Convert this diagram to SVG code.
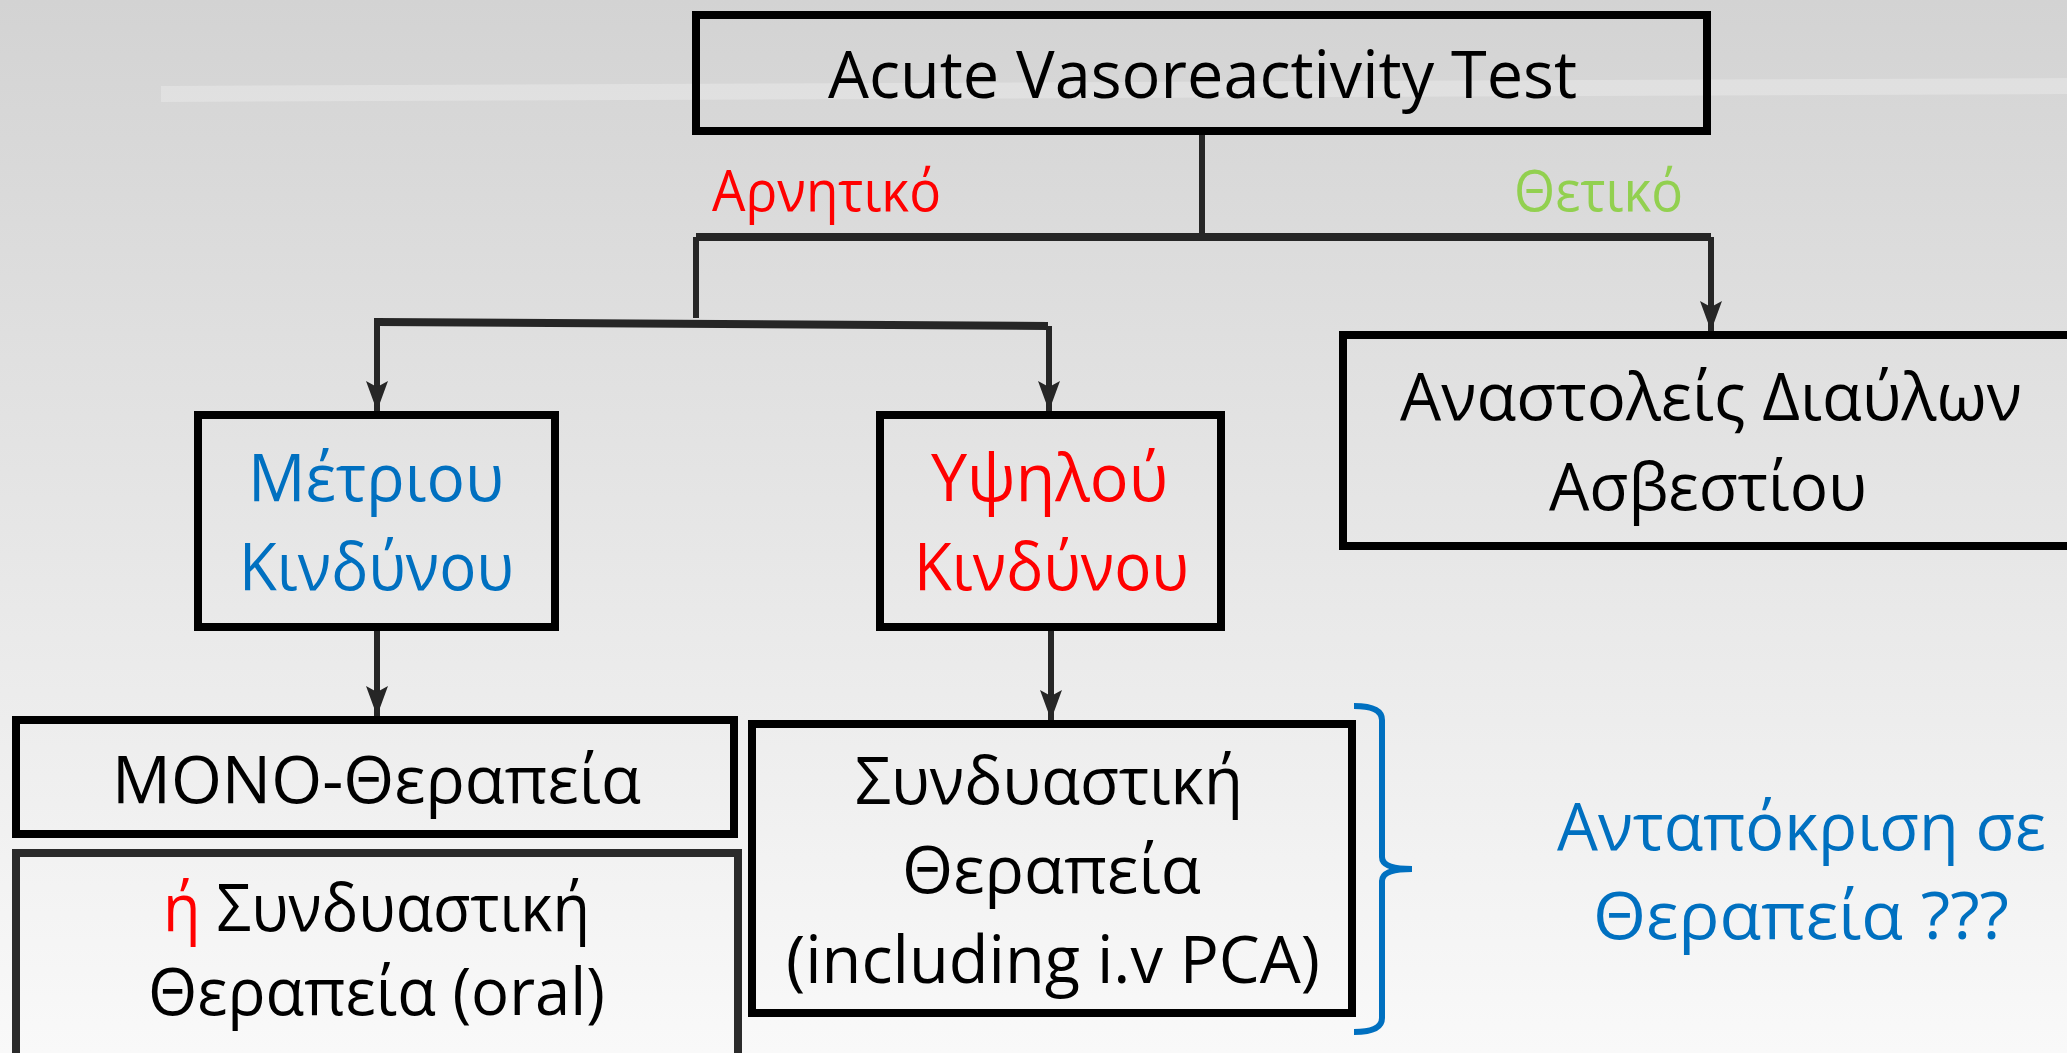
<svg xmlns="http://www.w3.org/2000/svg" width="2067" height="1053" viewBox="0 0 2067 1053">
<defs>
<linearGradient id="bg" x1="0" y1="0" x2="0" y2="1">
<stop offset="0" stop-color="#d3d3d3"/>
<stop offset="1" stop-color="#f9f9f9"/>
</linearGradient>
<marker id="arr" viewBox="0 0 30 22" markerWidth="30" markerHeight="22" refX="30" refY="11" orient="auto" markerUnits="userSpaceOnUse">
<path d="M0,0 L30,11 L0,22 L6,11 z" fill="#262626"/>
</marker>
</defs>
<style>
.box{fill:none;stroke:#000;stroke-width:8}
.t{font-family:"Open Sans","Noto Sans","DejaVu Sans",sans-serif;font-size:66px;fill:#000}
.lbl{font-size:56px}
.blue{fill:#0070C0}
.red{fill:#FF0000}
.green{fill:#92D050}
.c{fill:none;stroke:#262626;stroke-width:6}
.hb{stroke-width:8}
</style>
<rect width="2067" height="1053" fill="url(#bg)"/>
<polygon points="161,86 2067,78 2067,94 161,102" fill="#ffffff" opacity="0.25"/>

<g id="connectors">
<path class="c" d="M1202,135 L1202,237"/>
<path class="c hb" d="M696,237 L1711,237"/>
<path class="c" d="M696,237 L696,318"/>
<path class="c" d="M1711,237 L1711,331" marker-end="url(#arr)"/>
<path class="c hb" d="M377,322 L1048,326"/>
<path class="c" d="M377,318 L377,411" marker-end="url(#arr)"/>
<path class="c" d="M1049,326 L1049,411" marker-end="url(#arr)"/>
<path class="c" d="M377,631 L377,716" marker-end="url(#arr)"/>
<path class="c" d="M1051,631 L1051,720" marker-end="url(#arr)"/>
<path d="M1354,706 Q1382,706 1382,720 L1382,857 Q1382,869 1412,869 Q1382,869 1382,881 L1382,1018 Q1382,1032 1354,1032" fill="none" stroke="#0070C0" stroke-width="6"/>
</g>

<g id="root">
<rect class="box" x="696" y="15" width="1011" height="116"/>
<text class="t" x="828" y="98" textLength="749" lengthAdjust="spacingAndGlyphs">Acute Vasoreactivity Test</text>
</g>
<g id="label-negative"><text class="t lbl red" x="712" y="211" textLength="229" lengthAdjust="spacingAndGlyphs">Αρνητικό</text></g>
<g id="label-positive"><text class="t lbl green" x="1514" y="211" textLength="169" lengthAdjust="spacingAndGlyphs">Θετικό</text></g>

<g id="moderate">
<rect class="box" x="198" y="415" width="357" height="212"/>
<text class="t blue" x="248" y="501" textLength="256" lengthAdjust="spacingAndGlyphs">Μέτριου</text>
<text class="t blue" x="239" y="590" textLength="275" lengthAdjust="spacingAndGlyphs">Κινδύνου</text>
</g>
<g id="high">
<rect class="box" x="880" y="415" width="341" height="212"/>
<text class="t red" x="931" y="501" textLength="237" lengthAdjust="spacingAndGlyphs">Υψηλού</text>
<text class="t red" x="914" y="590" textLength="275" lengthAdjust="spacingAndGlyphs">Κινδύνου</text>
</g>
<g id="ccb">
<rect class="box" x="1343" y="335" width="800" height="211"/>
<text class="t" x="1400" y="420" textLength="622" lengthAdjust="spacingAndGlyphs">Αναστολείς Διαύλων</text>
<text class="t" x="1549" y="510" textLength="318" lengthAdjust="spacingAndGlyphs">Ασβεστίου</text>
</g>
<g id="mono">
<rect class="box" x="16" y="720" width="718" height="114"/>
<text class="t" x="112" y="803" textLength="529" lengthAdjust="spacingAndGlyphs">ΜΟΝΟ-Θεραπεία</text>
</g>
<g id="oral">
<rect class="box" x="16" y="853" width="722" height="220" style="stroke:#2b2b2b"/>
<text class="t" x="163" y="931" textLength="427" lengthAdjust="spacingAndGlyphs"><tspan class="red">ή</tspan> Συνδυαστική</text>
<text class="t" x="148" y="1015" textLength="457" lengthAdjust="spacingAndGlyphs">Θεραπεία (oral)</text>
</g>
<g id="combo">
<rect class="box" x="752" y="724" width="600" height="289"/>
<text class="t" x="855" y="804" textLength="388" lengthAdjust="spacingAndGlyphs">Συνδυαστική</text>
<text class="t" x="902" y="893" textLength="299" lengthAdjust="spacingAndGlyphs">Θεραπεία</text>
<text class="t" x="786" y="983" textLength="534" lengthAdjust="spacingAndGlyphs">(including i.v PCA)</text>
</g>
<g id="response">
<text class="t blue" x="1557" y="850" textLength="489" lengthAdjust="spacingAndGlyphs">Ανταπόκριση σε</text>
<text class="t blue" x="1593" y="939" textLength="416" lengthAdjust="spacingAndGlyphs">Θεραπεία ???</text>
</g>
</svg>
